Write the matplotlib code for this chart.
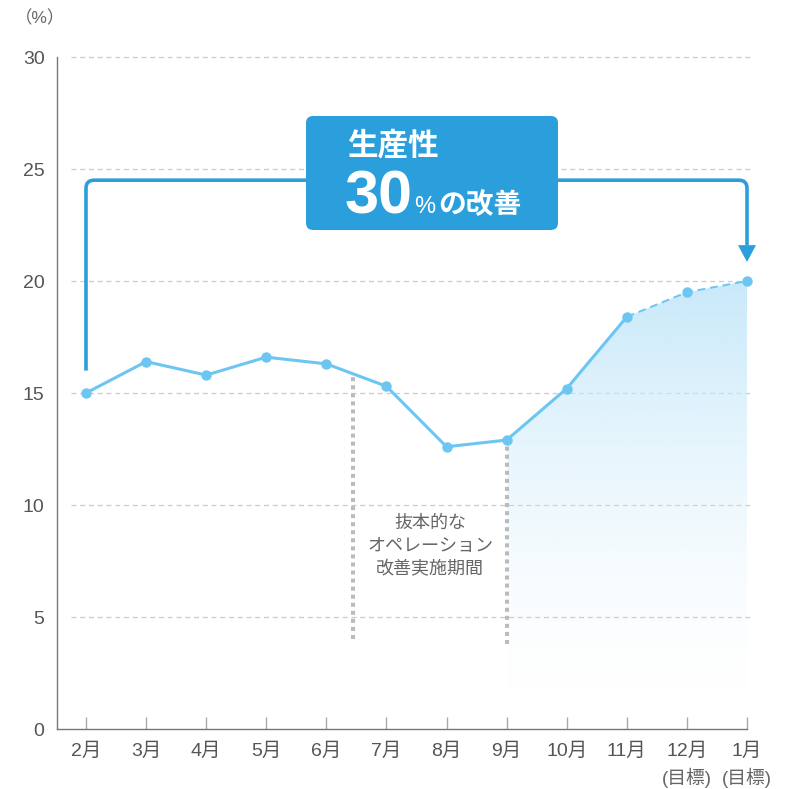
import numpy as np
import matplotlib.pyplot as plt
from matplotlib.colors import to_rgb
from matplotlib.patches import FancyBboxPatch, PathPatch, Polygon
from matplotlib.path import Path

plt.rcParams['font.family'] = ['Liberation Sans', 'Noto Sans CJK JP']

# 生産性の推移（%）
months = ['2月', '3月', '4月', '5月', '6月', '7月', '8月', '9月', '10月', '11月', '12月', '1月']
rate = [15.0, 16.4, 15.8, 16.6, 16.3, 15.3, 12.6, 12.9, 15.2, 18.4, 19.5, 20.0]
notes = ['', '', '', '', '', '', '', '', '', '', '(目標)', '(目標)']
yticks = [0, 5, 10, 15, 20, 25, 30]
n_actual = 10       # 2月〜11月が実績、以降は目標
fill_from = 7       # 9月から塗りつぶし
period = (4.45, 7)  # 改善実施期間

LINE = '#6cc6f1'
DARK = '#2b9fdb'
TXT = '#555555'

x = np.arange(len(months))

fig = plt.figure(figsize=(7.89, 7.89), dpi=100)
ax = fig.add_axes([57 / 789, 60 / 789, 690 / 789, 672 / 789])

# グラデーション塗り
base = 1.05
poly = ax.fill_between(x[fill_from:], rate[fill_from:], base, facecolor='none', edgecolor='none')
grad = np.linspace(0, 1, 256).reshape(-1, 1)
rgba = np.zeros((256, 1, 4))
rgba[..., :3] = to_rgb('#c8e9fa')
rgba[..., 3] = grad ** 1.6
im = ax.imshow(rgba, extent=[x[fill_from], x[-1], base, max(rate)], origin='lower',
               aspect='auto', zorder=1, interpolation='bilinear')
im.set_clip_path(poly.get_paths()[0], transform=ax.transData)

# 目盛り線
ax.hlines(yticks[1:], -0.25, 11.05, colors='#cccccc', linestyles=(0, (4, 3)),
          lw=0.9, zorder=0, clip_on=False)

# 期間の点線
ax.vlines(period[0], 4.0, 15.7, colors='#bbbbbb', linestyles=(0, (1, 1)), lw=2.9, zorder=2)
ax.vlines(period[1], 3.8, rate[fill_from], colors='#bbbbbb', linestyles=(0, (1, 1)), lw=2.9, zorder=2)
ax.text(sum(period) / 2, 8.15, '抜本的な\nオペレーション\n改善実施期間', ha='center', va='center',
        fontsize=13, color='#666666', linespacing=1.5)

# 折れ線
ax.plot(x[:n_actual], rate[:n_actual], color=LINE, lw=2.2, marker='o', ms=6.5, zorder=3)
ax.plot(x[n_actual - 1:], rate[n_actual - 1:], color=LINE, lw=1.4, ls=(0, (4, 2.5)), zorder=3)
ax.plot(x[n_actual:], rate[n_actual:], color=LINE, lw=0, marker='o', ms=6.5, zorder=3, clip_on=False)

# ブラケット矢印
top = 24.5
rx, ry = 8 / 60.1, 8 / 22.4
verts = [(0, 16.0), (0, top - ry), (0, top), (rx, top), (x[-1] - rx, top),
         (x[-1], top), (x[-1], top - ry), (x[-1], 21.6)]
codes = [Path.MOVETO, Path.LINETO, Path.CURVE3, Path.CURVE3, Path.LINETO,
         Path.CURVE3, Path.CURVE3, Path.LINETO]
ax.add_patch(PathPatch(Path(verts, codes), fill=False, edgecolor=DARK, lw=2.6,
                       capstyle='butt', zorder=4, clip_on=False))
hw = 9 / 60.1
ax.add_patch(Polygon([(x[-1] - hw, 21.6), (x[-1] + hw, 21.6), (x[-1], rate[-1] + 0.85)],
                     closed=True, facecolor=DARK, edgecolor='none', zorder=4, clip_on=False))

# 吹き出しボックス
box = FancyBboxPatch((306 / 789, 1 - 230 / 789), 252 / 789, 114 / 789,
                     boxstyle='round,pad=0,rounding_size=0.009', transform=fig.transFigure,
                     facecolor=DARK, edgecolor='none', zorder=5, clip_on=False)
ax.add_patch(box)
fig.text(347 / 789, 1 - 146 / 789, '生産性', color='white', fontsize=22, fontweight='bold',
         va='center', ha='left', zorder=6)
fig.text(345 / 789, 1 - 213 / 789, '30', color='white', fontsize=44, fontweight='bold',
         va='baseline', ha='left', zorder=6)
fig.text(414 / 789, 1 - 213 / 789, '%', color='white', fontsize=17,
         va='baseline', ha='left', zorder=6)
fig.text(438 / 789, 1 - 213 / 789, 'の改善', color='white', fontsize=20, fontweight='bold',
         va='baseline', ha='left', zorder=6)

# 軸
ax.set_xlim(-29 / 60.1, x[-1])
ax.set_ylim(0, 30)
ax.set_yticks(yticks)
ax.set_yticklabels([str(v) for v in yticks])
ax.set_xticks(x)
ax.set_xticklabels(months)
for s in ['top', 'right']:
    ax.spines[s].set_visible(False)
for s in ['left', 'bottom']:
    ax.spines[s].set_color('#777777')
    ax.spines[s].set_linewidth(1)
ax.tick_params(axis='y', length=0, pad=9, labelsize=14, labelcolor=TXT)
ax.tick_params(axis='x', direction='in', length=9, width=1, color='#aaaaaa',
               pad=10, labelsize=14, labelcolor=TXT)
for xi, note in zip(x, notes):
    if note:
        ax.text(xi, -0.072, note, transform=ax.get_xaxis_transform(), ha='center',
                va='center', fontsize=13.5, color='#666666')

fig.text(40 / 789, 1 - 18 / 789, '（%）', ha='center', va='center', fontsize=12.5, color='#666666')

fig.savefig('out.png', dpi=100)
